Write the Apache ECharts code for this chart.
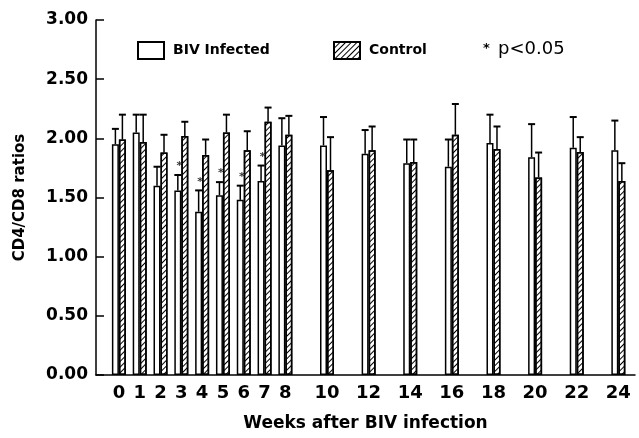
<!DOCTYPE html>
<html>
<head>
<meta charset="utf-8">
<script src="https://cdn.jsdelivr.net/npm/echarts@6/dist/echarts.min.js"></script>
<style>
html,body{margin:0;padding:0;background:#fff;}
#chart{width:639px;height:438px;}
</style>
</head>
<body>
<div id="chart"></div>
<script>
// ---- data ----
var weeks = [0, 1, 2, 3, 4, 5, 6, 7, 8, 10, 12, 14, 16, 18, 20, 22, 24];
var bivMean  = [1.95, 2.05, 1.60, 1.56, 1.38, 1.52, 1.48, 1.64, 1.94, 1.94, 1.87, 1.79, 1.76, 1.96, 1.84, 1.92, 1.90];
var bivUpper = [2.08, 2.20, 1.76, 1.69, 1.56, 1.63, 1.60, 1.77, 2.17, 2.18, 2.07, 1.99, 1.99, 2.20, 2.12, 2.18, 2.15];
var ctlMean  = [1.99, 1.97, 1.88, 2.02, 1.86, 2.05, 1.90, 2.14, 2.03, 1.73, 1.90, 1.80, 2.03, 1.91, 1.67, 1.885, 1.64];
var ctlUpper = [2.20, 2.20, 2.03, 2.14, 1.99, 2.20, 2.06, 2.26, 2.19, 2.01, 2.10, 1.99, 2.29, 2.10, 1.88, 2.01, 1.79];
var sigWeeks = [3, 4, 5, 6, 7];
var xTickLabels = [0, 1, 2, 3, 4, 5, 6, 7, 8, 10, 12, 14, 16, 18, 20, 22, 24];
var seriesNames = ['BIV Infected', 'Control'];

// ---- build ----
var BW = 7;
var FONT = 'DejaVu Sans';
function pairs(xs, ys) { return xs.map(function (x, i) { return [x, ys[i]]; }); }
function triples(xs, m, u) { return xs.map(function (x, i) { return [x, m[i], u[i]]; }); }
var sigData = sigWeeks.map(function (w) { var i = weeks.indexOf(w); return [w, bivUpper[i]]; });

function errRender(shift) {
  return function (params, api) {
    var p0 = api.coord([api.value(0), api.value(1)]);
    var p1 = api.coord([api.value(0), api.value(2)]);
    var x = p0[0] + shift;
    return {
      type: 'group',
      children: [
        { type: 'line', shape: { x1: x, y1: p0[1], x2: x, y2: p1[1] }, style: { stroke: '#000', lineWidth: 1.5 } },
        { type: 'line', shape: { x1: x - 3.5, y1: p1[1], x2: x + 3.5, y2: p1[1] }, style: { stroke: '#000', lineWidth: 2 } }
      ]
    };
  };
}

var hatch = {
  symbol: 'rect',
  symbolSize: 1,
  dashArrayX: [1, 0],
  dashArrayY: [1, 2.5],
  rotation: -Math.PI / 4,
  color: '#000'
};

var chart = echarts.init(document.getElementById('chart'), null, { renderer: 'canvas' });
chart.setOption({
  animation: false,
  backgroundColor: '#fff',
  textStyle: { fontFamily: FONT },
  grid: { left: 96, right: 4, top: 20, bottom: 63, containLabel: false },
  legend: [
    { data: [seriesNames[0]], left: 137, top: 41, padding: 0, icon: 'rect', itemWidth: 26, itemHeight: 17,
      textStyle: { fontFamily: FONT, fontWeight: 'bold', fontSize: 14, color: '#000', padding: [5, 0, 0, 4] } },
    { data: [seriesNames[1]], left: 333, top: 41, padding: 0, icon: 'rect', itemWidth: 26, itemHeight: 17,
      textStyle: { fontFamily: FONT, fontWeight: 'bold', fontSize: 14, color: '#000', padding: [5, 0, 0, 4] } }
  ],
  graphic: [
    { type: 'text', left: 483, top: 42, style: { text: '*', font: 'bold 13px DejaVu Sans', fill: '#000' } },
    { type: 'text', left: 498, top: 40, style: { text: 'p<0.05', font: '18px DejaVu Sans', fill: '#000' } }
  ],
  xAxis: {
    type: 'value', min: -1.1, max: 24.8,
    name: 'Weeks after BIV infection', nameLocation: 'middle', nameGap: 40,
    nameTextStyle: { fontFamily: FONT, fontWeight: 'bold', fontSize: 17, color: '#000' },
    axisLine: { show: true, onZero: false, lineStyle: { color: '#000', width: 1.5 } },
    axisTick: { show: false },
    splitLine: { show: false },
    axisLabel: { customValues: xTickLabels, margin: 9, fontFamily: FONT, fontWeight: 'bold', fontSize: 18, color: '#000' }
  },
  yAxis: {
    type: 'value', min: 0, max: 3, interval: 0.5,
    name: 'CD4/CD8 ratios', nameLocation: 'middle', nameGap: 68,
    nameTextStyle: { fontFamily: FONT, fontWeight: 'bold', fontSize: 15, color: '#000' },
    axisLine: { show: true, onZero: false, lineStyle: { color: '#000', width: 1.5 } },
    axisTick: { show: true, inside: true, length: 8, lineStyle: { color: '#000', width: 1.5 } },
    splitLine: { show: false },
    axisLabel: { margin: 8, fontFamily: FONT, fontWeight: 'bold', fontSize: 17, color: '#000',
      formatter: function (v) { return v.toFixed(2); } }
  },
  series: [
    { name: seriesNames[0], type: 'bar', barWidth: BW, barGap: '0%', data: pairs(weeks, bivMean),
      itemStyle: { color: '#fff', borderColor: '#000', borderWidth: 1.5 } },
    { name: seriesNames[1], type: 'bar', barWidth: BW, barGap: '0%', data: pairs(weeks, ctlMean),
      itemStyle: { color: '#fff', borderColor: '#000', borderWidth: 1.5, decal: hatch } },
    { type: 'custom', renderItem: errRender(-BW / 2), data: triples(weeks, bivMean, bivUpper), z: 3 },
    { type: 'custom', renderItem: errRender(BW / 2), data: triples(weeks, ctlMean, ctlUpper), z: 3 },
    { type: 'scatter', data: sigData, symbolSize: 0, z: 4,
      label: { show: true, position: 'top', distance: 3, offset: [-2, 0], formatter: '*',
        fontFamily: FONT, fontWeight: 'bold', fontSize: 11, color: '#000' } }
  ]
});
</script>
</body>
</html>
